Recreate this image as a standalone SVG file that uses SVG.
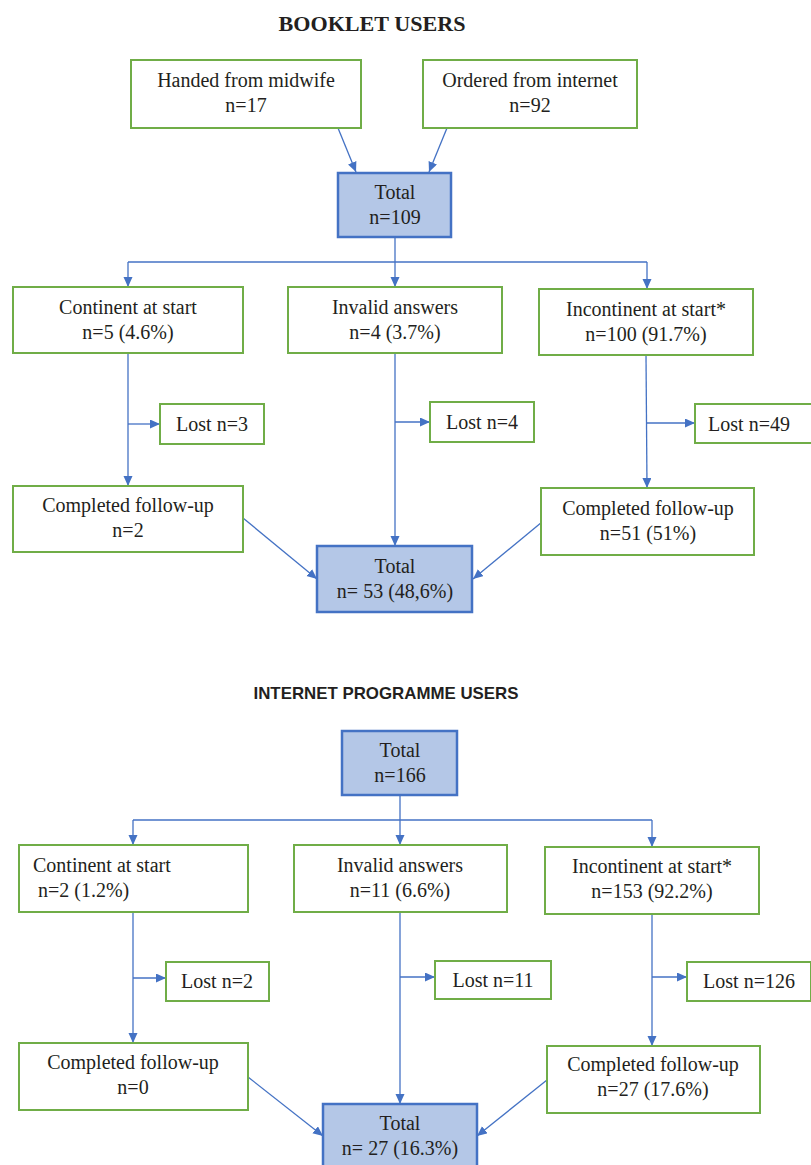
<svg xmlns="http://www.w3.org/2000/svg" width="811" height="1165" viewBox="0 0 811 1165">
<defs>
<marker id="ah" markerWidth="10" markerHeight="10" refX="10" refY="4.5" orient="auto" markerUnits="userSpaceOnUse">
<path d="M0,0 L10,4.5 L0,9 z" fill="#4472c4"/>
</marker>
<style>
.bx{fill:#fff;stroke:#70ad47;stroke-width:2}
.tb{fill:#b4c7e7;stroke:#4472c4;stroke-width:2.5}
.t{font-family:"Liberation Serif","Times New Roman",serif;font-size:20px;fill:#231f20;text-anchor:middle}
.tl{text-anchor:start}
.c{fill:none;stroke:#4472c4;stroke-width:1.3}
.ca{fill:none;stroke:#4472c4;stroke-width:1.3;marker-end:url(#ah)}
</style>
</defs>
<rect width="811" height="1165" fill="#fff"/>
<text x="372" y="31" style="font-family:'Liberation Serif','Times New Roman',serif;font-size:21px;font-weight:bold;fill:#231f20;text-anchor:middle" textLength="187" lengthAdjust="spacingAndGlyphs">BOOKLET USERS</text>
<text x="386" y="699" style="font-family:'Liberation Sans',Arial,sans-serif;font-size:17px;font-weight:bold;fill:#231f20;text-anchor:middle" textLength="265" lengthAdjust="spacingAndGlyphs">INTERNET PROGRAMME USERS</text>

<g id="connectors">
<line class="ca" x1="338" y1="128" x2="356" y2="172"/>
<line class="ca" x1="447" y1="128" x2="429" y2="172"/>
<line class="c" x1="395" y1="237" x2="395" y2="262"/>
<line class="c" x1="128" y1="262" x2="647" y2="262"/>
<line class="ca" x1="128" y1="262" x2="128" y2="287"/>
<line class="ca" x1="395" y1="262" x2="395" y2="287"/>
<line class="ca" x1="647" y1="262" x2="647" y2="289"/>
<line class="ca" x1="128" y1="353" x2="128" y2="486"/>
<line class="ca" x1="128" y1="424" x2="160" y2="424"/>
<line class="ca" x1="395" y1="353" x2="395" y2="546"/>
<line class="ca" x1="395" y1="422" x2="430" y2="422"/>
<line class="ca" x1="646" y1="355" x2="647" y2="488"/>
<line class="ca" x1="646" y1="423" x2="695" y2="423"/>
<line class="ca" x1="243" y1="518" x2="317" y2="579"/>
<line class="ca" x1="542" y1="522" x2="473" y2="579"/>

<line class="c" x1="400" y1="795" x2="400" y2="820"/>
<line class="c" x1="133" y1="820" x2="652" y2="820"/>
<line class="ca" x1="133" y1="820" x2="133" y2="845"/>
<line class="ca" x1="400" y1="820" x2="400" y2="845"/>
<line class="ca" x1="652" y1="820" x2="652" y2="847"/>
<line class="ca" x1="133" y1="912" x2="133" y2="1043"/>
<line class="ca" x1="133" y1="978" x2="166" y2="978"/>
<line class="ca" x1="400" y1="912" x2="400" y2="1104"/>
<line class="ca" x1="400" y1="977" x2="435" y2="977"/>
<line class="ca" x1="652" y1="914" x2="652" y2="1046"/>
<line class="ca" x1="652" y1="977" x2="687" y2="977"/>
<line class="ca" x1="248" y1="1077" x2="323" y2="1136"/>
<line class="ca" x1="547" y1="1080" x2="477" y2="1136"/>
</g>

<g id="b_midwife"><rect class="bx" x="131" y="60" width="230" height="68"/><text class="t" x="246" y="87">Handed from midwife</text><text class="t" x="246" y="112">n=17</text></g>
<g id="b_internet"><rect class="bx" x="423" y="60" width="214" height="68"/><text class="t" x="530" y="87">Ordered from internet</text><text class="t" x="530" y="112">n=92</text></g>
<g id="b_total1"><rect class="tb" x="338" y="173" width="113" height="64"/><text class="t" x="395" y="199">Total</text><text class="t" x="395" y="224">n=109</text></g>
<g id="b_cont1"><rect class="bx" x="13" y="287" width="230" height="66"/><text class="t" x="128" y="314">Continent at start</text><text class="t" x="128" y="339">n=5 (4.6%)</text></g>
<g id="b_inval1"><rect class="bx" x="288" y="287" width="214" height="66"/><text class="t" x="395" y="314">Invalid answers</text><text class="t" x="395" y="339">n=4 (3.7%)</text></g>
<g id="b_incont1"><rect class="bx" x="539" y="289" width="214" height="66"/><text class="t" x="646" y="316">Incontinent at start*</text><text class="t" x="646" y="341">n=100 (91.7%)</text></g>
<g id="b_lost1a"><rect class="bx" x="160" y="404" width="104" height="40"/><text class="t" x="212" y="431">Lost n=3</text></g>
<g id="b_lost1b"><rect class="bx" x="430" y="402" width="104" height="40"/><text class="t" x="482" y="429">Lost n=4</text></g>
<g id="b_lost1c"><rect class="bx" x="695" y="404" width="118" height="39"/><text class="t" x="749" y="431">Lost n=49</text></g>
<g id="b_comp1a"><rect class="bx" x="13" y="486" width="230" height="66"/><text class="t" x="128" y="512">Completed follow-up</text><text class="t" x="128" y="537">n=2</text></g>
<g id="b_comp1c"><rect class="bx" x="541" y="488" width="213" height="67"/><text class="t" x="648" y="515">Completed follow-up</text><text class="t" x="648" y="540">n=51 (51%)</text></g>
<g id="b_total1b"><rect class="tb" x="317" y="546" width="155" height="66"/><text class="t" x="395" y="573">Total</text><text class="t" x="395" y="598">n= 53 (48,6%)</text></g>

<g id="b_total2"><rect class="tb" x="342" y="731" width="115" height="64"/><text class="t" x="400" y="757">Total</text><text class="t" x="400" y="782">n=166</text></g>
<g id="b_cont2"><rect class="bx" x="19" y="845" width="229" height="67"/><text class="t tl" x="33" y="872">Continent at start</text><text class="t tl" x="38" y="897">n=2 (1.2%)</text></g>
<g id="b_inval2"><rect class="bx" x="294" y="845" width="213" height="67"/><text class="t" x="400" y="872">Invalid answers</text><text class="t" x="400" y="897">n=11 (6.6%)</text></g>
<g id="b_incont2"><rect class="bx" x="545" y="847" width="214" height="67"/><text class="t" x="652" y="873">Incontinent at start*</text><text class="t" x="652" y="898">n=153 (92.2%)</text></g>
<g id="b_lost2a"><rect class="bx" x="166" y="962" width="103" height="39"/><text class="t" x="217" y="988">Lost n=2</text></g>
<g id="b_lost2b"><rect class="bx" x="435" y="961" width="116" height="38"/><text class="t" x="493" y="987">Lost n=11</text></g>
<g id="b_lost2c"><rect class="bx" x="687" y="962" width="124" height="39"/><text class="t" x="749" y="988">Lost n=126</text></g>
<g id="b_comp2a"><rect class="bx" x="19" y="1043" width="229" height="67"/><text class="t" x="133" y="1069">Completed follow-up</text><text class="t" x="133" y="1094">n=0</text></g>
<g id="b_comp2c"><rect class="bx" x="547" y="1046" width="213" height="67"/><text class="t" x="653" y="1071">Completed follow-up</text><text class="t" x="653" y="1096">n=27 (17.6%)</text></g>
<g id="b_total2b"><rect class="tb" x="323" y="1104" width="154" height="68"/><text class="t" x="400" y="1130">Total</text><text class="t" x="400" y="1155">n= 27 (16.3%)</text></g>
</svg>
